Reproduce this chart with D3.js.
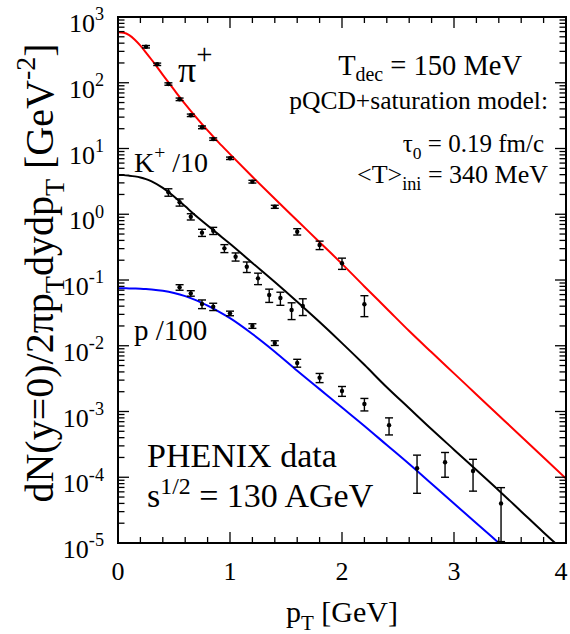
<!DOCTYPE html>
<html><head><meta charset="utf-8">
<script src="https://cdn.jsdelivr.net/npm/d3@7"></script>
<style>html,body{margin:0;padding:0;background:#fff;}svg{display:block;}</style>
</head><body>
<script>
// ---- data ----
const yTickExps = [3, 2, 1, 0, -1, -2, -3, -4, -5];
const xTickVals = [0, 1, 2, 3, 4];

const curvePt = [0,0.05,0.1,0.15,0.2,0.25,0.3,0.4,0.5,0.6,0.7,0.8,0.9,1.0,1.2,1.4,1.6,1.8,2.0,2.2,2.4,2.6,2.8,3.0,3.2,3.4,3.6,3.8,4.0];
const pionCurve = [584.8,575.4,530.9,451.9,367.3,288.4,223.9,131.8,78.5,47.3,29.5,18.84,12.30,8.22,3.72,1.718,0.804,0.376,0.176,0.0798,0.0366,0.01675,0.00794,0.0038,0.00182,8.71e-4,4.17e-4,2.0e-4,9.55e-5];
const kaonCurve = [3.954,3.936,3.864,3.767,3.631,3.428,3.162,2.512,1.862,1.318,0.933,0.676,0.490,0.355,0.182,0.0933,0.0468,0.0229,0.01096,0.00513,0.00234,0.00112,5.37e-4,2.63e-4,1.29e-4,6.31e-5,3.02e-5,1.445e-5,7.08e-6];
const protonCurve = [0.0748,0.0747,0.0745,0.0741,0.0736,0.0728,0.0716,0.0684,0.0635,0.0569,0.0490,0.0407,0.0331,0.0263,0.0151,0.00813,0.00417,0.00219,0.00115,6.03e-4,3.09e-4,1.585e-4,7.94e-5,3.98e-5,2.0e-5,1.0e-5,5.0e-6,2.5e-6,1.26e-6];

const pionPt  = [0.25,0.35,0.45,0.55,0.65,0.75,0.85,1.0,1.2,1.4,1.6,1.8,2.0,2.2];
const pionY   = [353,191,95.7,56,32,21,13.9,7.1,3.13,1.30,0.543,0.34,0.18,0.0427];
const pionErr = [15,8,4,2.5,1.4,1.0,0.6,0.3,0.15,0.07,0.06,0.05,0.035,0.015];

const kaonPt  = [0.45,0.55,0.65,0.75,0.85,0.95,1.05,1.15,1.25,1.35,1.45,1.55,1.65];
const kaonY   = [2.16,1.52,0.918,0.525,0.562,0.303,0.226,0.159,0.106,0.0591,0.0532,0.035,0.0403];
const kaonErr = [0.28,0.19,0.1,0.065,0.07,0.042,0.032,0.029,0.021,0.0135,0.012,0.01,0.0115];

const protonPt  = [0.55,0.65,0.75,0.85,1.0,1.2,1.4,1.6,1.8,2.0,2.2,2.42,2.67,2.92,3.17,3.42];
const protonY   = [0.0774,0.0627,0.0432,0.0393,0.0311,0.0200,0.0110,0.00547,0.00327,0.00205,0.0013,0.00062,1.37e-4,1.69e-4,1.245e-4,4.0e-5];
const protonErr = [0.0075,0.006,0.0065,0.005,0.0025,0.0016,0.0009,0.00075,0.00052,0.00035,0.00028,0.00018,8e-5,6.9e-5,6.3e-5,2.95e-5];

// ---- layout ----
const W = 570, H = 634;
const L = 118, R = 566, T = 17, B = 543;
const FONT = "Liberation Serif";

const svg = d3.select("body").append("svg").attr("width", W).attr("height", H)
  .attr("font-family", FONT);

const x = d3.scaleLinear().domain([0, 4]).range([L, R]);
const y = d3.scaleLog().domain([1e-5, 1e3]).range([B, T]);

svg.append("defs").append("clipPath").attr("id", "clip")
  .append("rect").attr("x", L).attr("y", T).attr("width", R - L).attr("height", B - T);

function rich(g, parts, size) {
  let shift = 0;
  g.attr("font-family", FONT);
  parts.forEach(p => {
    let target = 0, fs = size;
    if (p.sub) { target = (p.drop || 0.28) * size; fs = size * 0.7; }
    if (p.sup) { target = -(p.raise || 0.45) * size; fs = size * 0.7; }
    if (p.supBig) { target = -0.5 * size; fs = size * 0.8; }
    g.append("tspan").attr("dy", target - shift).attr("font-size", fs).text(p.t);
    shift = target;
  });
  return g;
}
function plain(xp, yp, size, txt, anchor) {
  return svg.append("text").attr("x", xp).attr("y", yp).attr("font-family", FONT)
    .attr("font-size", size).attr("text-anchor", anchor || "start").text(txt);
}

// ---- curves ----
const gc = svg.append("g").attr("clip-path", "url(#clip)");
const line = d3.line().x(d => x(d[0])).y(d => y(d[1])).curve(d3.curveMonotoneX);
[[pionCurve, "#ff0000"], [kaonCurve, "#000000"], [protonCurve, "#0000ff"]].forEach(([vals, col]) => {
  gc.append("path").datum(curvePt.map((p, i) => [p, vals[i]]))
    .attr("d", line).attr("fill", "none").attr("stroke", col).attr("stroke-width", 2);
});

// ---- data points ----
function drawSeries(pts, vals, errs) {
  const g = gc.append("g");
  pts.forEach((p, i) => {
    const cx = x(p);
    const y1 = y(vals[i] + errs[i]);
    const y0 = y(Math.max(vals[i] - errs[i], 1e-7));
    g.append("line").attr("x1", cx).attr("x2", cx).attr("y1", y1).attr("y2", y0)
      .attr("stroke", "#000").attr("stroke-width", 1.4);
    [y0, y1].forEach(yy => g.append("line").attr("x1", cx - 4).attr("x2", cx + 4)
      .attr("y1", yy).attr("y2", yy).attr("stroke", "#000").attr("stroke-width", 1.4));
    g.append("circle").attr("cx", cx).attr("cy", y(vals[i])).attr("r", 2.2).attr("fill", "#000");
  });
}
drawSeries(pionPt, pionY, pionErr);
drawSeries(kaonPt, kaonY, kaonErr);
drawSeries(protonPt, protonY, protonErr);

// ---- axes / ticks ----
const ax = svg.append("g").attr("stroke", "#000").attr("stroke-width", 1.3);
d3.range(0, 4.0001, 0.2).forEach(v => {
  const major = Math.abs(v - Math.round(v)) < 1e-6;
  const len = major ? 11 : 6;
  ax.append("line").attr("x1", x(v)).attr("x2", x(v)).attr("y1", B).attr("y2", B - len);
  ax.append("line").attr("x1", x(v)).attr("x2", x(v)).attr("y1", T).attr("y2", T + len);
});
for (let e = -5; e <= 3; e++) {
  for (let m = 1; m <= 9; m++) {
    const v = m * Math.pow(10, e);
    if (v > 1e3 * 1.0001) continue;
    const len = m === 1 ? 11 : 6.5;
    ax.append("line").attr("x1", L).attr("x2", L + len).attr("y1", y(v)).attr("y2", y(v));
    ax.append("line").attr("x1", R).attr("x2", R - len).attr("y1", y(v)).attr("y2", y(v));
  }
}
svg.append("rect").attr("x", L).attr("y", T).attr("width", R - L).attr("height", B - T)
  .attr("fill", "none").attr("stroke", "#000").attr("stroke-width", 2);

// tick labels
xTickVals.forEach(v => plain(Math.min(x(v), 561), 580, 26, String(v), "middle"));
yTickExps.forEach(e => {
  const t = svg.append("text").attr("x", 104).attr("y", y(Math.pow(10, e)) + 15)
    .attr("text-anchor", "end").attr("font-size", 26);
  rich(t, [{t: "10"}, {t: String(e), sup: true}], 26);
});

// axis titles
const xt = svg.append("text").attr("x", (L + R) / 2).attr("y", 622).attr("text-anchor", "middle").attr("font-size", 30);
rich(xt, [{t: "p"}, {t: "T", sub: true}, {t: " [GeV]"}], 30);

const yt = svg.append("text").attr("transform", "translate(53," + ((T + B) / 2 - 7) + ") rotate(-90)")
  .attr("text-anchor", "middle").attr("font-size", 40);
rich(yt, [{t: "dN(y=0)/2πp"}, {t: "T", sub: true}, {t: "dydp"}, {t: "T", sub: true}, {t: " [GeV"}, {t: "-2", sup: true}, {t: "]"}], 40);

// annotations
const a1 = svg.append("text").attr("x", 178).attr("y", 82).attr("font-size", 36);
rich(a1, [{t: "π"}, {t: "+", supBig: true}], 36);

const a2 = svg.append("text").attr("x", 134).attr("y", 172).attr("font-size", 28);
rich(a2, [{t: "K"}, {t: "+", sup: true}, {t: " /10"}], 28);

plain(134, 340, 29, "p /100");

plain(147, 467, 34, "PHENIX data");
const a3 = svg.append("text").attr("x", 147).attr("y", 507).attr("font-size", 34);
rich(a3, [{t: "s"}, {t: "1/2", sup: true, raise: 0.38}, {t: " = 130 AGeV"}], 34);

const a4 = svg.append("text").attr("x", 522).attr("y", 75).attr("text-anchor", "end").attr("font-size", 28.5);
rich(a4, [{t: "T"}, {t: "dec", sub: true, drop: 0.22}, {t: " = 150 MeV"}], 28.5);

plain(548, 109, 25.5, "pQCD+saturation model:", "end");
const a5 = svg.append("text").attr("x", 544).attr("y", 152).attr("text-anchor", "end").attr("font-size", 25);
rich(a5, [{t: "τ"}, {t: "0", sub: true}, {t: " = 0.19 fm/c"}], 25);
const a6 = svg.append("text").attr("x", 548).attr("y", 183).attr("text-anchor", "end").attr("font-size", 26);
rich(a6, [{t: "<T>"}, {t: "ini", sub: true}, {t: " = 340 MeV"}], 26);
</script>
</body></html>
